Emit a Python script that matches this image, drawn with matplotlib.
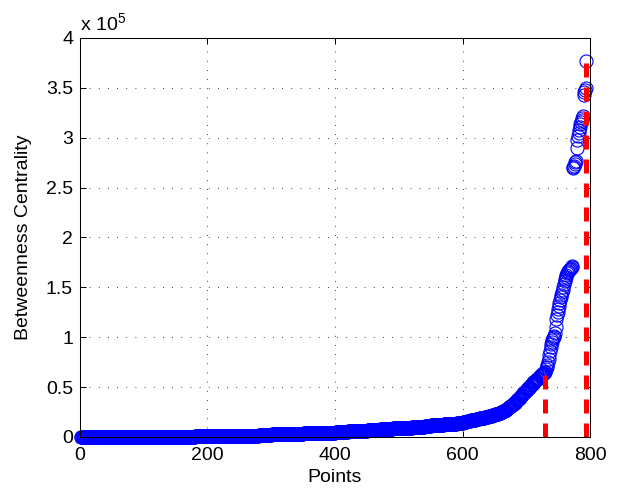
import numpy as np
import matplotlib
matplotlib.use("Agg")
import matplotlib.pyplot as plt
from matplotlib.ticker import FuncFormatter

plt.rcParams['font.family'] = ['Liberation Sans', 'DejaVu Sans']
plt.rcParams['mathtext.default'] = 'regular'

# betweenness values, sorted (thousands)
# points 1-600, one level per 10 points
bulk_levels = [0, 0, 0, 0, 0, 0, 0, 0, 0, 0,
               0.1, 0.1, 0.2, 0.2, 0.3, 0.3, 0.4, 0.4, 0.5, 0.5,
               0.6, 0.7, 0.8, 0.9, 1.0, 1.1, 1.2, 1.3, 1.5,
               2.4, 2.6, 2.8, 3.0, 3.1, 3.3, 3.5, 3.7, 3.9, 4.1, 4.3,
               5.0, 5.3, 5.6, 5.9, 6.3, 6.7, 7.1, 7.5, 8.0, 8.5,
               9.0, 9.5, 10.0, 10.5, 11.0, 11.6, 12.2, 12.8, 13.4, 14.0]
# points 601-730, one level per 2 points
mid_levels = [15.0, 15.2, 15.5, 15.8, 16.0, 16.3, 16.6, 16.9, 17.2, 17.5, 17.8, 18.1, 18.4, 18.7, 19.0, 19.3,
              19.4, 19.8, 20.2, 20.5, 20.8, 21.1, 21.4, 21.8, 22.2, 22.6, 23.0, 23.4, 23.8, 24.2,
              24.8, 25.6, 26.4, 27.2, 28.0, 28.8, 29.8, 30.8, 31.8, 32.8,
              34.0, 35.3, 36.6, 38.0, 39.4, 40.8, 42.2, 43.6, 45.0, 46.4, 47.8, 49.2, 50.6,
              52.0, 53.4, 54.8, 56.0, 57.2, 58.4, 59.6, 60.8, 62.0, 63.2, 64.4, 65.6]
# points 731-793, one value each
tail_values = [68, 70, 72, 75, 78, 82, 86, 90, 93, 95, 97, 99, 100, 101, 104, 110, 118, 122, 125,
               128, 131, 134, 137, 140, 142, 145, 147, 150, 153, 156, 158, 160, 162, 164, 165,
               166, 167, 168, 168, 169, 170, 171,
               270, 271, 272, 274, 276, 277, 290, 298, 302, 305, 308, 311, 314,
               316, 318, 320, 322, 343, 346, 348, 350, 377]

# red dashed cut lines
cut_x = [729, 793]
cut_top = [66000, 380000]

bc = np.concatenate([np.repeat(bulk_levels, 10), np.repeat(mid_levels, 2), tail_values]) * 1000
pts = np.arange(1, len(bc) + 1)

fig = plt.figure(figsize=(6.19, 4.96), dpi=100)
ax = fig.add_axes([0.1292, 0.119, 0.824, 0.8044])

ax.plot(pts, bc, 'o', mfc='none', mec='#0000ff', ms=9.4, mew=0.8, zorder=3, clip_on=False)
for cx, ct in zip(cut_x, cut_top):
    ax.plot([cx, cx], [0, ct], color='#ff0000', lw=3.6, ls=(0, (2.8, 2.0)), zorder=4)

ax.set_xlim(0, 800)
ax.set_ylim(0, 4e5)
ax.set_xticks([0, 200, 400, 600, 800])
ax.set_yticks(np.arange(0, 4.01e5, 0.5e5))
ax.yaxis.set_major_formatter(FuncFormatter(lambda v, p: '%g' % (v / 1e5)))

ax.grid(True, color='black', lw=0.6, ls=(0, (1, 10)))
ax.set_axisbelow(True)
ax.tick_params(direction='in', top=True, right=True, length=4, width=0.75, labelsize=14)
ax.tick_params(axis='x', pad=7)
ax.tick_params(axis='y', pad=5)
for s in ax.spines.values():
    s.set_linewidth(0.75)
    s.set_zorder(5)

ax.set_xlabel('Points', fontsize=14, labelpad=4)
ax.set_ylabel('Betweenness Centrality', fontsize=14, labelpad=10)
ax.annotate(r'x 10$^{5}$', xy=(0, 1), xycoords='axes fraction', xytext=(0, 6),
            textcoords='offset points', fontsize=14, ha='left', va='baseline')

fig.savefig('out.png', dpi=100)
